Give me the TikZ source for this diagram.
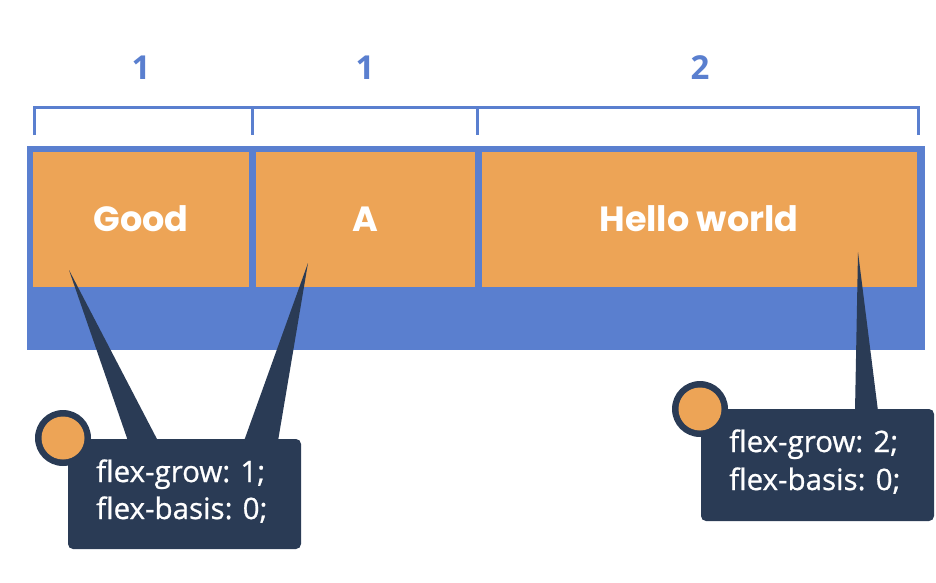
\documentclass[tikz,border=0pt]{standalone}
\usepackage{fontspec}
\setmainfont{Open Sans}
\newfontfamily\boldfont{Poppins}
\newfontfamily\medfont{Open Sans}[FakeBold=0.8]
\definecolor{cblue}{HTML}{5A7FCF}
\definecolor{corange}{HTML}{EDA456}
\definecolor{cnavy}{HTML}{2A3B55}
\tikzset{
  item/.style={fill=corange, draw=none},
  itemtext/.style={text=white, font=\boldfont\bfseries\fontsize{35}{40}\selectfont},
  bracketline/.style={draw=cblue, line width=3pt},
  numlabel/.style={text=cblue, font=\bfseries\fontsize{33}{36}\selectfont},
  callout/.style={fill=cnavy, draw=none, rounded corners=5pt},
  calltext/.style={text=white, font=\medfont\fontsize{29.5}{37}\selectfont, anchor=base west, inner sep=0pt},
}
\begin{document}
\begin{tikzpicture}[x=1pt,y=-1pt]
\useasboundingbox (0,0) rectangle (936,582);
% container
\fill[cblue] (27,146) rectangle (925,350);
% items
\fill[item] (33,152) rectangle (249,287);
\fill[item] (256,152) rectangle (475,287);
\fill[item] (482,152) rectangle (917,287);
\node[itemtext] (good) at (141,219) {Good};
\node[itemtext] (a) at (365,219) {A};
\node[itemtext] (hello) at (699,219) {Hello world};
% bracket
\draw[bracketline, line cap=butt] (34,135) -- (34,107) -- (918,107) -- (918,135);
\draw[bracketline] (252,107) -- (252,135);
\draw[bracketline] (477,107) -- (477,135);
\node[numlabel] (n1) at (141,68) {1};
\node[numlabel] (n2) at (365,68) {1};
\node[numlabel] (n3) at (700,68) {2};
% wedges
\coordinate (t1) at (69,270);
\coordinate (t2) at (308,263);
\coordinate (t3) at (858,252);
\fill[cnavy] (t1) -- (128,441) -- (158,441) -- cycle;
\fill[cnavy] (t2) -- (244,441) -- (278,441) -- cycle;
\fill[cnavy] (t3) -- (855,411) -- (878,411) -- cycle;
% callouts
\fill[callout] (68,439) rectangle (301,549);
\fill[callout] (701,409) rectangle (934,521);
\fill[cnavy] (63,438) circle[radius=28];
\fill[corange] (63,438) circle[radius=21.5];
\fill[cnavy] (700,409) circle[radius=28];
\fill[corange] (700,409) circle[radius=21.5];
\node[calltext] (c1a) at (96,482) {flex-grow: 1;};
\node[calltext] (c1b) at (96,519) {flex-basis: 0;};
\node[calltext] (c2a) at (729,452) {flex-grow: 2;};
\node[calltext] (c2b) at (729,490) {flex-basis: 0;};
\end{tikzpicture}
\end{document}
